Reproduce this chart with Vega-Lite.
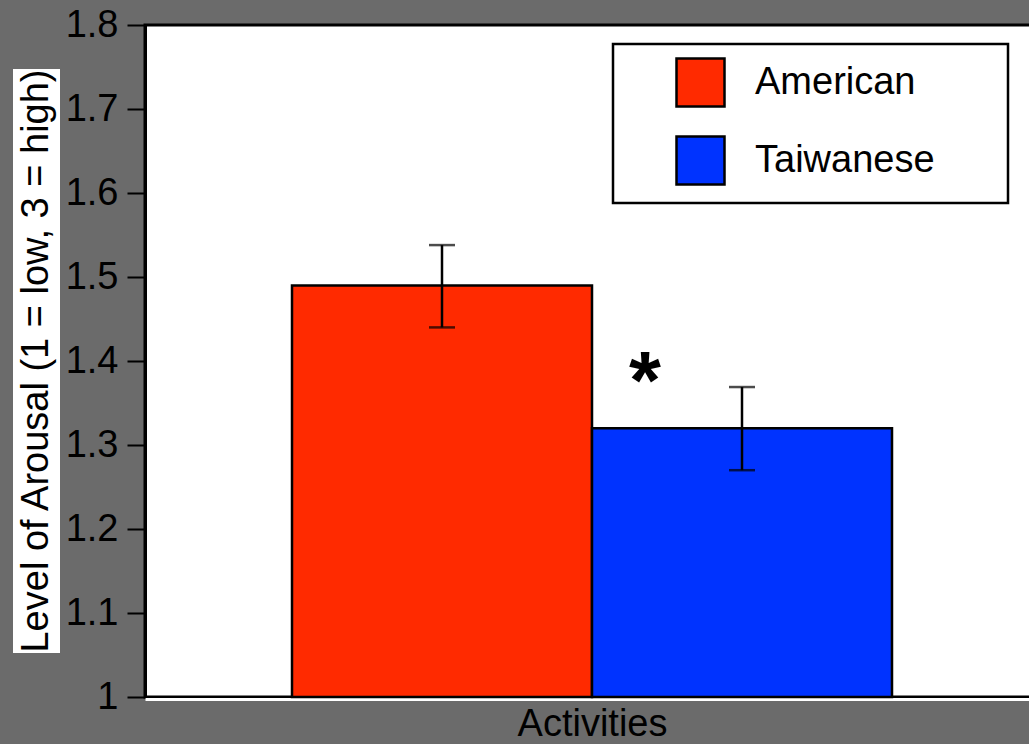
{
  "$schema": "https://vega.github.io/schema/vega-lite/v6.json",
  "background": "#6b6b6b",
  "padding": {"left": 13, "top": 4, "right": 0, "bottom": 0},
  "config": {"font": "Liberation Sans", "view": {"stroke": null}},
  "spacing": 85,
  "bounds": "flush",
  "center": true,
  "hconcat": [
    {
      "width": 47,
      "height": 584,
      "view": {"fill": "white", "stroke": null},
      "data": {"values": [{"label": "Level of Arousal (1 = low, 3 = high)"}]},
      "mark": {"type": "text", "angle": 270, "fontSize": 38, "color": "black", "align": "center", "baseline": "middle"},
      "encoding": {"text": {"field": "label", "type": "nominal"}}
    },
    {
      "width": 894,
      "height": 672,
      "view": {"fill": "white", "stroke": "black", "strokeWidth": 3},
      "data": {"values": [
        {"category": "Activities", "group": "American", "mean": 1.49, "lo": 1.44, "hi": 1.538},
        {"category": "Activities", "group": "Taiwanese", "mean": 1.32, "lo": 1.27, "hi": 1.369}
      ]},
      "encoding": {
        "x": {"field": "category", "type": "nominal",
          "scale": {"paddingInner": 0, "paddingOuter": 0.245},
          "axis": {"title": "Activities", "labels": false, "ticks": false, "domainColor": "white", "domainWidth": 3, "offset": 2,
            "titleFontSize": 38, "titleFontWeight": "normal", "titleColor": "black", "titlePadding": 6}},
        "xOffset": {"field": "group", "type": "nominal", "scale": {"paddingInner": 0, "paddingOuter": 0}}
      },
      "layer": [
        {
          "mark": {"type": "bar", "stroke": "black", "strokeWidth": 2.5},
          "encoding": {
            "y": {"field": "mean", "type": "quantitative",
              "scale": {"domain": [1, 1.8], "zero": false, "nice": false},
              "axis": {"title": null, "values": [1, 1.1, 1.2, 1.3, 1.4, 1.5, 1.6, 1.7, 1.8], "format": ".1~f", "grid": false,
                "labelFontSize": 38, "labelColor": "black", "labelPadding": 9, "tickSize": 18, "tickColor": "black", "tickWidth": 2,
                "domainColor": "black", "domainWidth": 3}},
            "y2": {"datum": 1},
            "color": {"field": "group", "type": "nominal",
              "scale": {"domain": ["American", "Taiwanese"], "range": ["#ff2a00", "#0033ff"]},
              "legend": {"title": "\u00a0", "titleOrient": "right", "titlePadding": 60, "titleFontSize": 11,
                "orient": "none", "legendX": 600, "legendY": 19, "fillColor": "white", "strokeColor": "black",
                "padding": 13, "rowPadding": 19, "symbolType": "square", "symbolSize": 2304, "symbolStrokeColor": "black", "symbolStrokeWidth": 2.5,
                "symbolOffset": 49, "labelFontSize": 38, "labelColor": "black", "labelOffset": 29, "labelLimit": 500,
                "encode": {"legend": {"update": {"strokeWidth": {"value": 2.5}}}}}}
          }
        },
        {
          "mark": {"type": "rule", "color": "black", "strokeWidth": 2.5},
          "encoding": {"y": {"field": "lo", "type": "quantitative"}, "y2": {"field": "hi"}}
        },
        {
          "mark": {"type": "tick", "color": "black", "thickness": 2.5, "size": 26},
          "encoding": {"y": {"field": "lo", "type": "quantitative"}}
        },
        {
          "mark": {"type": "tick", "color": "black", "thickness": 2.5, "size": 26},
          "encoding": {"y": {"field": "hi", "type": "quantitative"}}
        },
        {
          "data": {"values": [{"category": "Activities", "group": "Taiwanese", "pos": 1.374, "label": "*"}]},
          "mark": {"type": "text", "fontSize": 82, "fontWeight": "bold", "dx": -97, "baseline": "middle", "align": "center", "color": "black"},
          "encoding": {"y": {"field": "pos", "type": "quantitative"}, "text": {"field": "label", "type": "nominal"}}
        }
      ]
    }
  ]
}
